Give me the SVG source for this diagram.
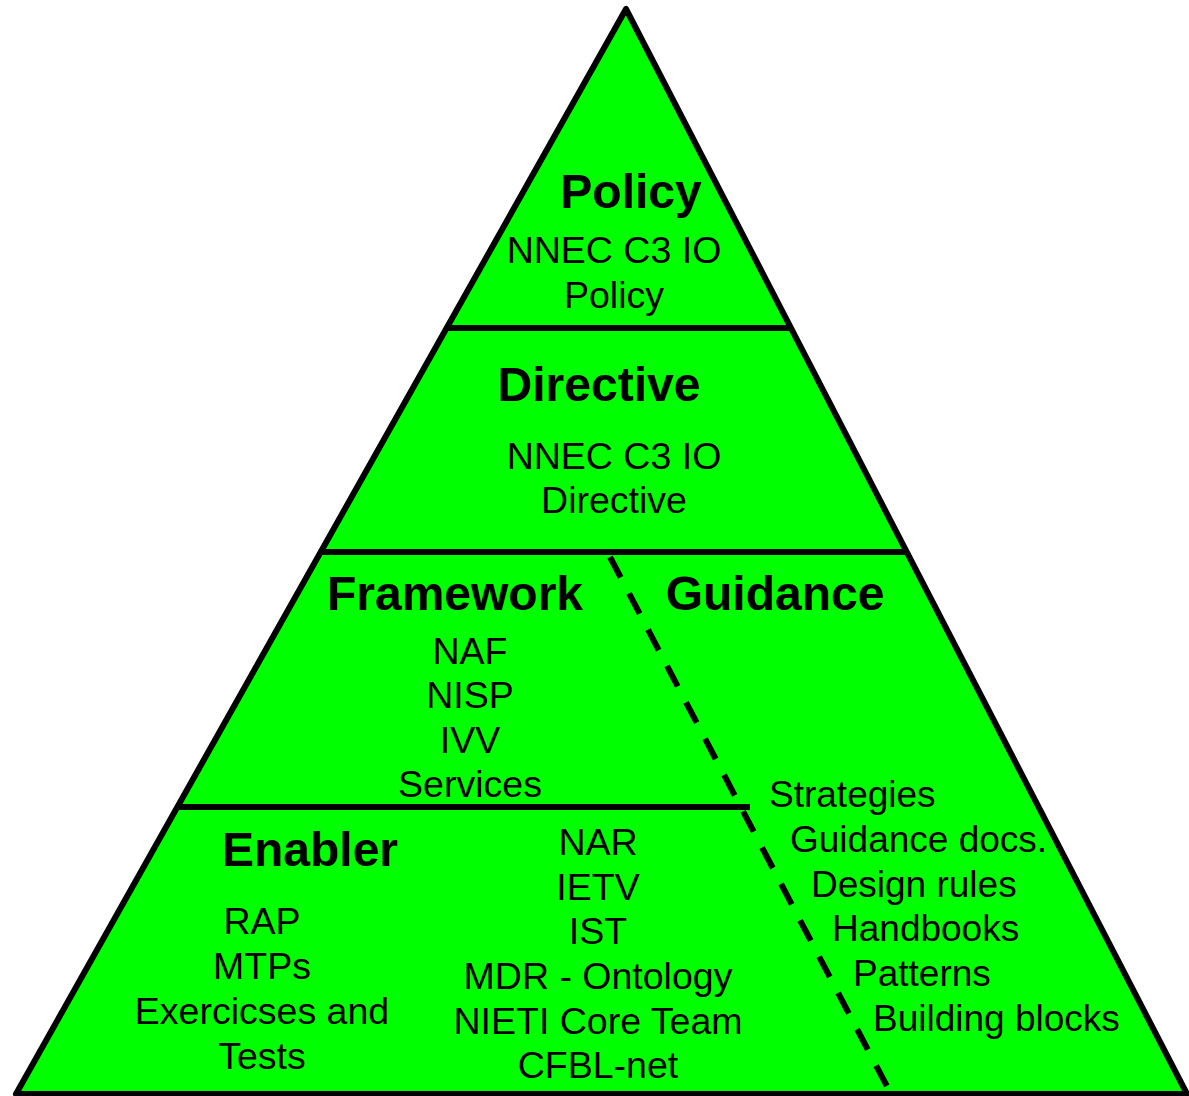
<svg xmlns="http://www.w3.org/2000/svg" width="1189" height="1096" viewBox="0 0 1189 1096">
<style>
.t{font-family:"Liberation Sans",Arial,sans-serif;fill:#000;}
.h{font-size:48px;font-weight:bold;text-anchor:middle;}
.r{font-size:37.5px;text-anchor:middle;}
.l{font-size:37px;text-anchor:start;}
.ln{stroke:#000;stroke-width:6;fill:none;}
</style>
<rect width="1189" height="1096" fill="#fff"/>
<g id="pyramid">
<polygon points="626,9 16,1094 1187,1094" fill="#00FF00" stroke="#000" stroke-width="6" stroke-linejoin="round"/>
</g>
<g id="connectors">
<line class="ln" x1="446" y1="328" x2="793" y2="328"/>
<line class="ln" x1="320" y1="552" x2="908" y2="552"/>
<line class="ln" x1="179" y1="807" x2="750" y2="807"/>
<line class="ln" x1="610" y1="557" x2="891" y2="1094" stroke-dasharray="23 18"/>
</g>
<g id="policy" class="t">
<text class="h" x="631" y="208">Policy</text>
<text class="r" x="614" y="263">NNEC C3 IO</text>
<text class="r" x="614" y="308">Policy</text>
</g>
<g id="directive" class="t">
<text class="h" x="599" y="401">Directive</text>
<text class="r" x="614" y="469">NNEC C3 IO</text>
<text class="r" x="614" y="513">Directive</text>
</g>
<g id="framework" class="t">
<text class="h" x="455" y="610">Framework</text>
<text class="r" x="470" y="664">NAF</text>
<text class="r" x="470" y="708">NISP</text>
<text class="r" x="470" y="753">IVV</text>
<text class="r" x="470" y="797">Services</text>
</g>
<g id="guidance" class="t">
<text class="h" x="775" y="610">Guidance</text>
<text class="l" x="769" y="807">Strategies</text>
<text class="l" x="790" y="852">Guidance docs.</text>
<text class="l" x="811" y="897">Design rules</text>
<text class="l" x="832" y="941">Handbooks</text>
<text class="l" x="853" y="986">Patterns</text>
<text class="l" x="873" y="1031">Building blocks</text>
</g>
<g id="enabler" class="t">
<text class="h" x="310" y="866">Enabler</text>
<text class="r" x="262" y="934">RAP</text>
<text class="r" x="262" y="979">MTPs</text>
<text class="r" x="262" y="1024">Exercicses and</text>
<text class="r" x="262" y="1069">Tests</text>
<text class="r" x="598" y="855">NAR</text>
<text class="r" x="598" y="900">IETV</text>
<text class="r" x="598" y="944">IST</text>
<text class="r" x="598" y="989">MDR - Ontology</text>
<text class="r" x="598" y="1034">NIETI Core Team</text>
<text class="r" x="598" y="1078">CFBL-net</text>
</g>
</svg>
